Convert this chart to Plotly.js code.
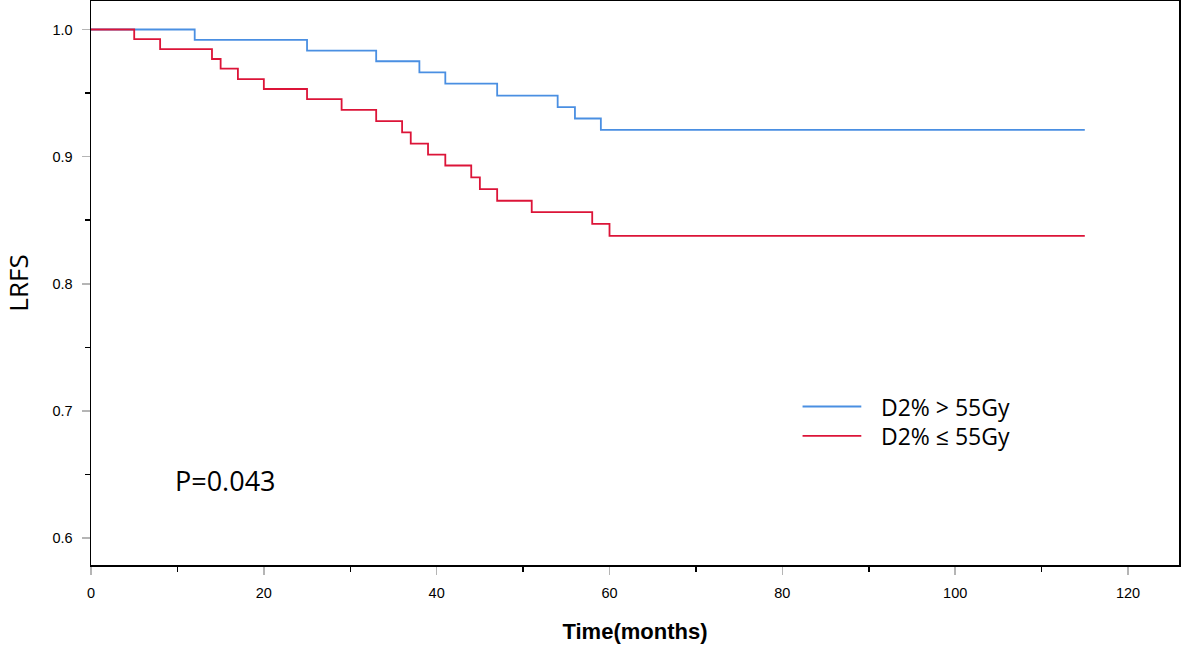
<!DOCTYPE html>
<html>
<head>
<meta charset="utf-8">
<script src="https://cdn.plot.ly/plotly-3.0.1.min.js"></script>
<style>
  html, body { margin: 0; padding: 0; background: #fff; }
  #plot { width: 1181px; height: 647px; }
</style>
</head>
<body>
<div id="plot"></div>
<script>
// Kaplan-Meier curves (months, survival)
var highTimes = [0, 12, 25, 33, 38, 41, 47, 54, 56, 59, 115];
var highSurv  = [1.0, 0.9918, 0.9834, 0.975, 0.9663, 0.9574, 0.948, 0.939, 0.930, 0.921, 0.921];

var lowTimes = [0, 5, 8, 14, 15, 17, 20, 25, 29, 33, 36, 37, 39, 41, 44, 45, 47, 51, 58, 60, 115];
var lowSurv  = [1.0, 0.9924, 0.9845, 0.9768, 0.9692, 0.961, 0.9532, 0.9453, 0.9368, 0.9279,
                0.919, 0.9103, 0.9016, 0.893, 0.8837, 0.8745, 0.8653, 0.8563, 0.8471, 0.8376, 0.8376];

var groupNames = ['D2% > 55Gy', 'D2% ≤ 55Gy'];
var groupColors = ['#4a8fe2', '#dc1438'];
var pText = 'P=0.043';

var xTicks = [0, 20, 40, 60, 80, 100, 120];
var yTicks = [0.6, 0.7, 0.8, 0.9, 1.0];
var yTickText = ['0.6', '0.7', '0.8', '0.9', '1.0'];

var plotlyData = [
    {type: 'scatter', mode: 'lines', name: groupNames[0], x: highTimes, y: highSurv,
     line: {shape: 'hv', color: groupColors[0], width: 1.8}},
    {type: 'scatter', mode: 'lines', name: groupNames[1], x: lowTimes, y: lowSurv,
     line: {shape: 'hv', color: groupColors[1], width: 1.8}}
];

var textFont = 'Open Sans, Noto Sans, sans-serif';
var tickFont = {family: 'Liberation Sans, Arial, sans-serif', size: 14.5, color: '#000'};

// hand-made legend: long sample lines like the original
var legendY = [0.281, 0.229];   // paper coords of the two rows
var shapes = [], annotations = [];
for (var i = 0; i < groupNames.length; ++i)
{
    shapes.push({type: 'line', xref: 'paper', yref: 'paper',
                 x0: 0.654, x1: 0.708, y0: legendY[i], y1: legendY[i],
                 line: {color: groupColors[i], width: 1.8}});
    annotations.push({xref: 'paper', yref: 'paper', x: 0.724, y: legendY[i],
                      xanchor: 'left', yanchor: 'middle', showarrow: false,
                      text: groupNames[i], font: {family: textFont, size: 23, color: '#000'}});
}
annotations.push({xref: 'x', yref: 'y', x: 9.5, y: 0.6455, xanchor: 'left', yanchor: 'middle',
                  showarrow: false, text: pText,
                  font: {family: textFont, size: 27, color: '#000'}});

var layout = {
    width: 1181, height: 647,
    margin: {l: 91, r: 2, t: 1, b: 82},
    paper_bgcolor: '#fff', plot_bgcolor: '#fff',
    showlegend: false,
    xaxis: {
        range: [0, 125.9],
        tickvals: xTicks,
        ticks: 'outside', ticklen: 8, tickwidth: 1.5, tickcolor: '#b5b5b5',
        ticklabelstandoff: 6,
        tickfont: tickFont,
        minor: {dtick: 10, tick0: 0, ticks: 'outside', ticklen: 5, tickwidth: 1.5, tickcolor: '#000'},
        showline: true, linecolor: '#000', linewidth: 1.5, mirror: true,
        showgrid: false, zeroline: false,
        title: {text: 'Time(months)', standoff: 23,
                font: {family: 'Liberation Sans, Arial, sans-serif', size: 22, color: '#000', weight: 'bold'}}
    },
    yaxis: {
        range: [0.5788, 1.0224],
        tickvals: yTicks, ticktext: yTickText,
        ticks: 'outside', ticklen: 8, tickwidth: 1.5, tickcolor: '#b5b5b5',
        ticklabelstandoff: 6,
        tickfont: tickFont,
        minor: {dtick: 0.05, tick0: 0.6, ticks: 'outside', ticklen: 5, tickwidth: 1.5, tickcolor: '#000'},
        showline: true, linecolor: '#000', linewidth: 1.5, mirror: true,
        showgrid: false, zeroline: false,
        title: {text: 'LRFS', standoff: 27,
                font: {family: textFont, size: 26, color: '#000'}}
    },
    shapes: shapes,
    annotations: annotations
};

Plotly.newPlot(document.getElementById('plot'), plotlyData, layout, {displayModeBar: false, staticPlot: true});
</script>
</body>
</html>
